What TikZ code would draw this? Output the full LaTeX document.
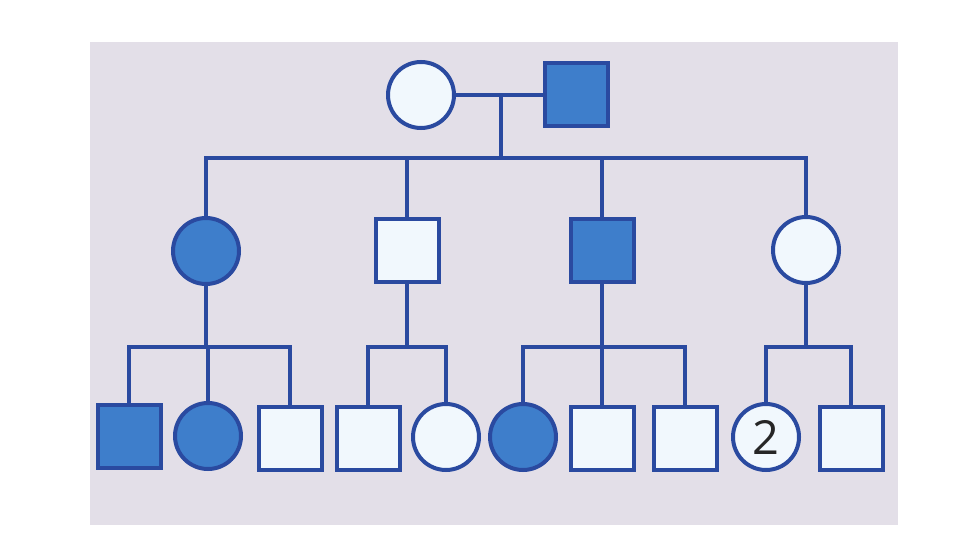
\documentclass[tikz,border=0pt]{standalone}
\usepackage{fontspec}
\usepackage{tikz}
\usetikzlibrary{positioning,calc}
\setsansfont{Open Sans}
\definecolor{pedLine}{RGB}{42,74,160}
\definecolor{pedFill}{RGB}{62,126,203}
\definecolor{pedPale}{RGB}{241,248,253}
\definecolor{pedBack}{RGB}{227,223,232}

\tikzset{
  kin/.style={draw=pedLine,line width=4pt},
  male/.style={rectangle,draw=pedLine,line width=4pt,minimum size=63pt,inner sep=0pt},
  female/.style={circle,draw=pedLine,line width=4pt,minimum size=66pt,inner sep=0pt},
  aff/.style={fill=pedFill},
  unaff/.style={fill=pedPale}
}

\begin{document}
\begin{tikzpicture}[x=1pt,y=-1pt]
  \useasboundingbox (0,0) rectangle (960,540);
  % backdrop
  \fill[pedBack] (90,42) rectangle (898,525);
  % generation I
  \node[female,unaff] (p1) at (421,95) {};
  \node[male,aff]     (p2) at (576,95) {};
  % generation II
  \node[female,aff]   (c1) at (206,251) {};
  \node[male,unaff]   (c2) at (407,250) {};
  \node[male,aff]     (c3) at (602,250) {};
  \node[female,unaff] (c4) at (806,250) {};
  % generation III
  \node[male,aff]     (g1) at (129,436) {};
  \node[female,aff]   (g2) at (208,436) {};
  \node[male,unaff]   (g3) at (290,438) {};
  \node[male,unaff]   (g4) at (368,438) {};
  \node[female,unaff] (g5) at (446,437) {};
  \node[female,aff]   (g6) at (523,437) {};
  \node[male,unaff]   (g7) at (602,438) {};
  \node[male,unaff]   (g8) at (685,438) {};
  \node[female,unaff,font=\sffamily\fontsize{47}{47}\selectfont,text=black!85] (g9) at (766,437) {2};
  \node[male,unaff]   (g10) at (851,438) {};
  % mating line and sibship of generation II
  \coordinate (pm) at ($(p1)!0.515!(p2)$);
  \coordinate (b0) at (pm |- 0,158);
  \draw[kin] (p1.east) -- (p2.west);
  \draw[kin] (pm) -- (b0);
  \draw[kin] (c1.north) |- (b0) -| (c4.north);
  \draw[kin] (c2.north) -- (c2 |- b0);
  \draw[kin] (c3.north) -- (c3 |- b0);
  % sibships of generation III
  \coordinate (b1) at (c1 |- 0,347);
  \coordinate (b2) at (c2 |- 0,347);
  \coordinate (b3) at (c3 |- 0,347);
  \coordinate (b4) at (c4 |- 0,347);
  \draw[kin] (c1.south) -- (b1);
  \draw[kin] (g1.north) |- (b1) -| (g3.north);
  \draw[kin] (g2.north) -- (g2 |- b1);
  \draw[kin] (c2.south) -- (b2);
  \draw[kin] (g4.north) |- (b2) -| (g5.north);
  \draw[kin] (c3.south) -- (b3);
  \draw[kin] (g6.north) |- (b3) -| (g8.north);
  \draw[kin] (g7.north) -- (g7 |- b3);
  \draw[kin] (c4.south) -- (b4);
  \draw[kin] (g9.north) |- (b4) -| (g10.north);
\end{tikzpicture}
\end{document}
